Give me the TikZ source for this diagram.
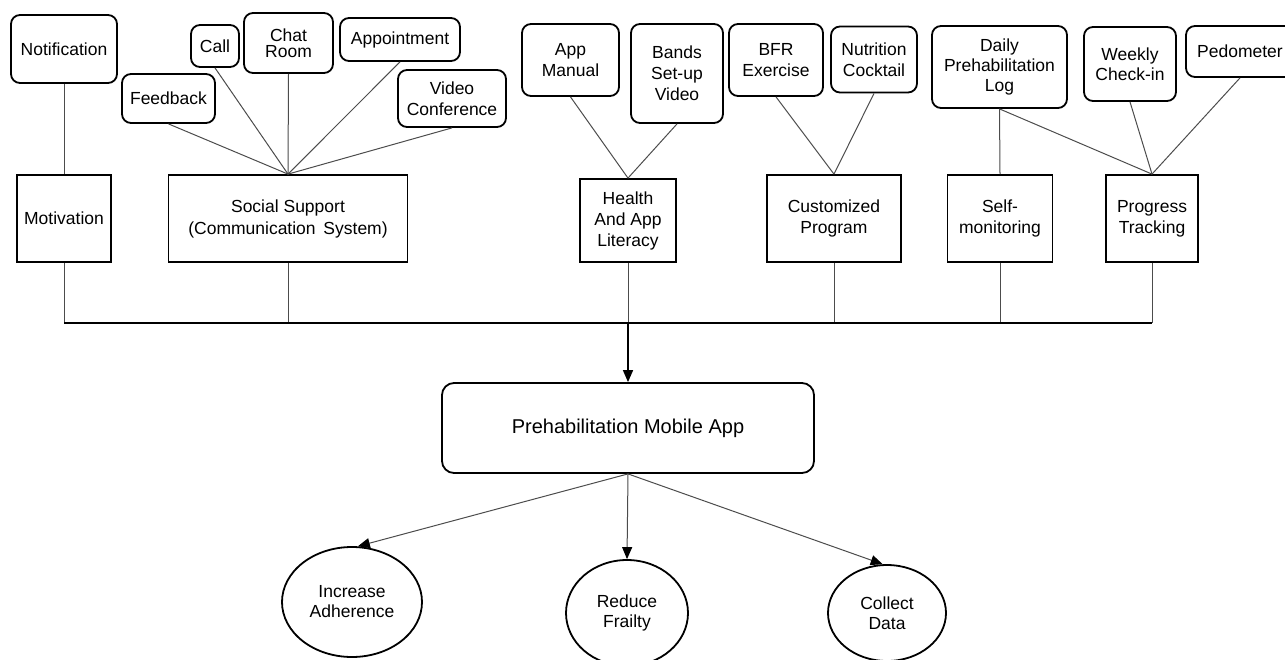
\documentclass[tikz,border=0pt]{standalone}
\usepackage{fontspec}
\setmainfont{Liberation Sans}
\usetikzlibrary{shapes.geometric,arrows.meta}
\begin{document}
\begin{tikzpicture}[x=1pt,y=-1pt,
  every node/.style={font=\fontsize{17.5}{21}\selectfont, align=center, inner sep=0pt},
  rbox/.style={draw, line width=1.8pt, rounded corners=9pt},
  cbox/.style={draw, line width=1.8pt},
  conn/.style={draw=black!70, line width=1pt},
  busline/.style={draw=black, line width=2pt},
  oval/.style={ellipse, draw, line width=1.8pt},
  tipa/.style={-{Triangle[length=12pt,width=10pt,color=black,fill=black]}}
]
\useasboundingbox (0,0) rectangle (1285,659);

% top feature boxes
\node[rbox, minimum width=106pt, minimum height=68pt] (notif) at (64,49) {Notification};
\node[rbox, minimum width=93pt, minimum height=49pt] (feed) at (168.5,98.5) {Feedback};
\node[rbox, minimum width=48pt, minimum height=42pt] (call) at (215,46) {Call};
\node[rbox, minimum width=89pt, minimum height=60pt, font=\fontsize{17.5}{16}\selectfont] (chat) at (288.5,43) {Chat\\Room};
\node[rbox, minimum width=120pt, minimum height=43pt] (appt) at (400,39.5) {Appointment};
\node[rbox, minimum width=108pt, minimum height=57pt] (video) at (452,98.5) {Video\\Conference};
\node[rbox, minimum width=97pt, minimum height=72pt] (appman) at (570.5,60) {App\\Manual};
\node[rbox, minimum width=92pt, minimum height=99pt] (bands) at (677,73.5) {Bands\\Set-up\\Video};
\node[rbox, minimum width=94pt, minimum height=72pt] (bfr) at (776,60) {BFR\\Exercise};
\node[rbox, minimum width=86pt, minimum height=66pt] (nutr) at (874,59.5) {Nutrition\\Cocktail};
\node[rbox, minimum width=135pt, minimum height=82pt, font=\fontsize{17.5}{20}\selectfont] (daily) at (999.5,67) {Daily\\Prehabilitation\\Log};
\node[rbox, minimum width=92pt, minimum height=74pt, font=\fontsize{17.5}{20}\selectfont] (weekly) at (1130,64) {Weekly\\Check-in};
\node[rbox, minimum width=108pt, minimum height=51pt] (pedo) at (1240,51.5) {Pedometer};

% category boxes
\node[cbox, minimum width=94pt, minimum height=87pt] (motiv) at (64,218.5) {Motivation};
\node[cbox, minimum width=239pt, minimum height=87pt, font=\fontsize{17.5}{22}\selectfont] (social) at (288,218.5) {Social Support\\(Communication\ \,System)};
\node[cbox, minimum width=96pt, minimum height=83pt] (health) at (628,220.5) {Health\\And App\\Literacy};
\node[cbox, minimum width=134pt, minimum height=87pt] (custom) at (834,218.5) {Customized\\Program};
\node[cbox, minimum width=105pt, minimum height=87pt] (selfmon) at (1000,218.5) {Self-\\monitoring};
\node[cbox, minimum width=92pt, minimum height=87pt] (progress) at (1152,218.5) {Progress\\Tracking};

% main app
\node[rbox, rounded corners=12pt, minimum width=372pt, minimum height=90pt, font=\fontsize{20}{24}\selectfont] (main) at (628,428) {Prehabilitation Mobile App};

% outcomes
\node[oval, minimum width=140pt, minimum height=110pt, font=\fontsize{17.5}{20}\selectfont] (inc) at (352,602) {Increase\\Adherence};
\node[oval, minimum width=122pt, minimum height=106pt, font=\fontsize{17.5}{20}\selectfont] (red) at (627,613) {Reduce\\Frailty};
\node[oval, minimum width=118pt, minimum height=96pt, font=\fontsize{17.5}{20}\selectfont] (col) at (887,613) {Collect\\Data};

% connectors top
\draw[conn] (notif.south) -- (motiv.north);
\foreach \s in {feed,call,chat,appt,video} \draw[conn] (\s.south) -- (social.north);
\foreach \s in {appman,bands} \draw[conn] (\s.south) -- (health.north);
\foreach \s in {bfr,nutr} \draw[conn] (\s.south) -- (custom.north);
\draw[conn] (daily.south) -- (selfmon.north);
\foreach \s in {daily,weekly,pedo} \draw[conn] (\s.south) -- (progress.north);

% bus
\coordinate (busL) at (64,323);
\coordinate (busR) at (1152,323);
\foreach \s in {motiv,social,health,custom,selfmon,progress} \draw[conn] (\s.south) -- (\s.south |- busL);
\draw[busline] (busL) -- (busR);
\draw[line width=1.6pt, tipa] (main.north |- busL) -- (main.north);

% outputs
\draw[conn, tipa] (main.south) -- (inc.84);
\draw[conn, tipa] (main.south) -- (red.north);
\draw[conn, tipa] (main.south) -- (col.95);
\end{tikzpicture}
\end{document}
